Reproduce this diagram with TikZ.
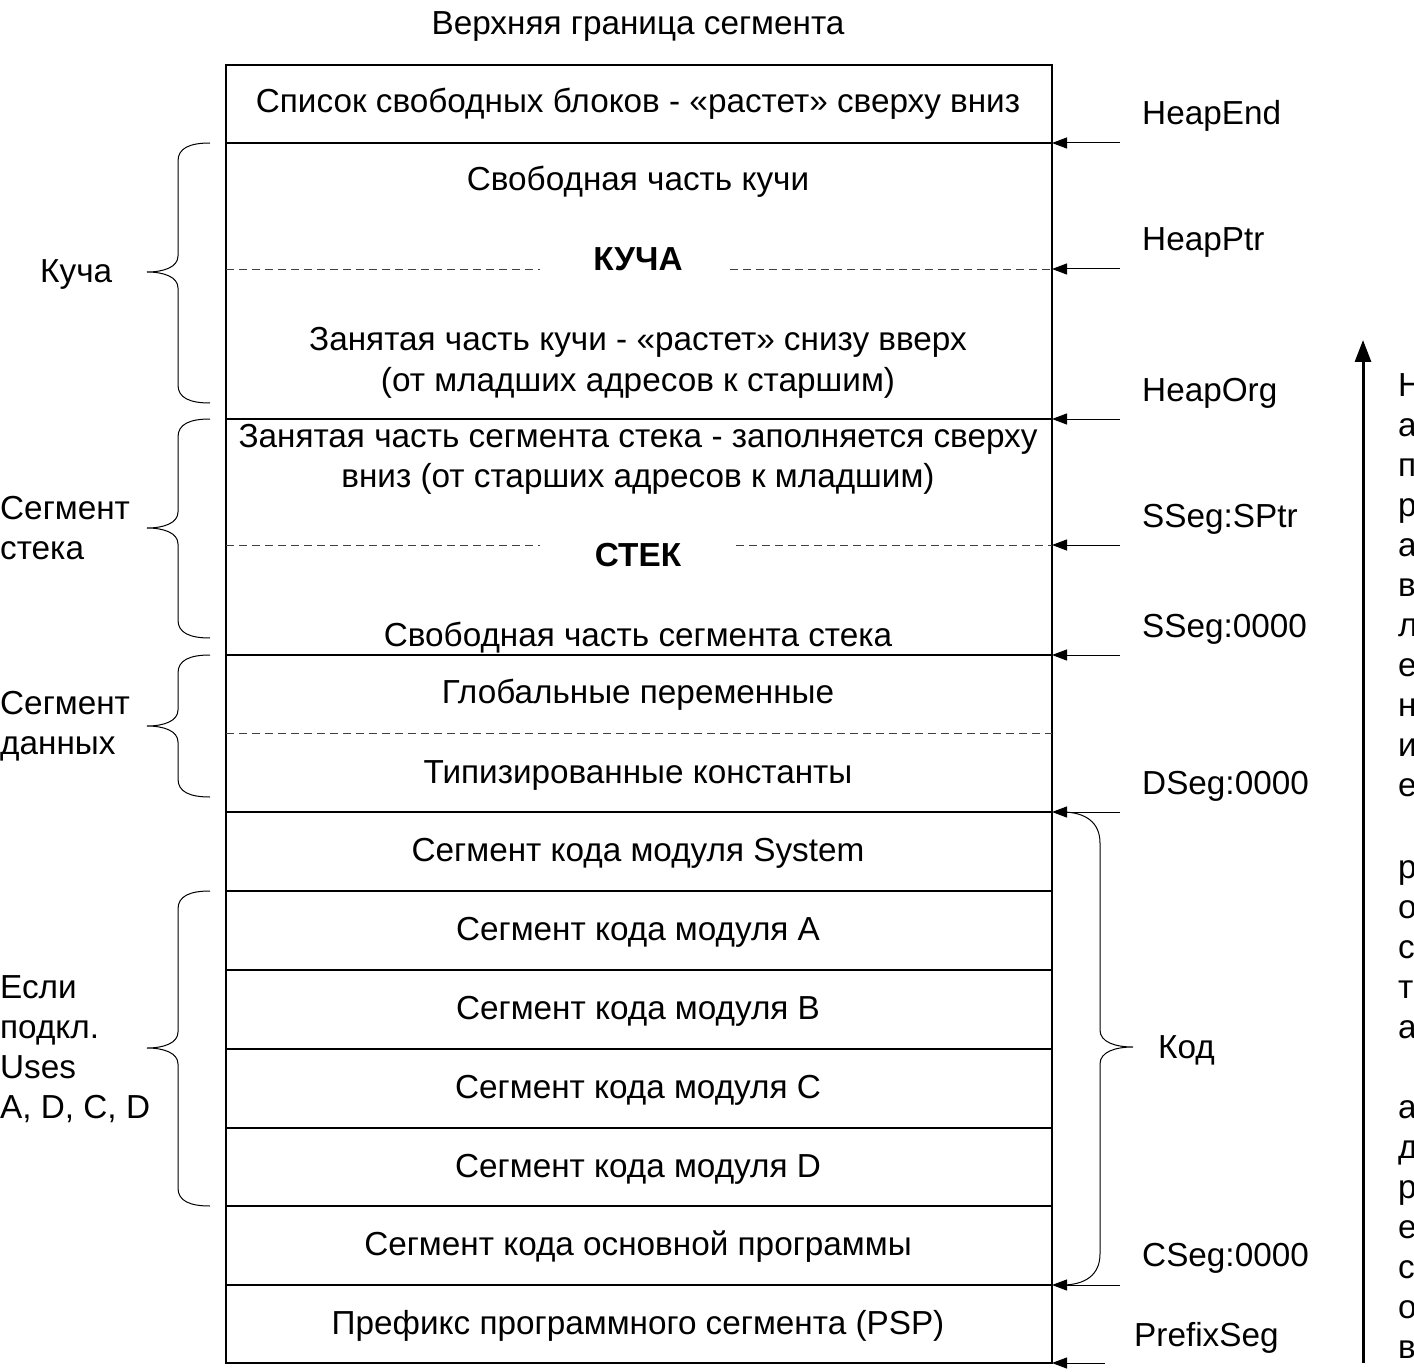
\documentclass[tikz,border=0pt]{standalone}
\usepackage{fontspec}
\setmainfont{Liberation Sans}
\usetikzlibrary{arrows.meta}
\newcommand\mybracL[4]{% tip x, top y, mid y, bottom y
  \draw[brc] (#1,#2) .. controls (#1-20,#2) and (#1-32,#2+5) .. (#1-32,#2+18) -- (#1-32,#3-16)
    .. controls (#1-32,#3-5) and (#1-46,#3) .. (#1-63,#3)
    .. controls (#1-46,#3) and (#1-32,#3+5) .. (#1-32,#3+16) -- (#1-32,#4-18)
    .. controls (#1-32,#4-5) and (#1-20,#4) .. (#1,#4);}
\begin{document}
\begin{tikzpicture}[x=1pt,y=-1pt,
  lbl/.style={font=\fontsize{33.3}{40}\selectfont, inner sep=0pt, anchor=base, align=center},
  lbll/.style={lbl, anchor=base west, align=left},
  boldlbl/.style={lbl, font=\fontsize{33.3}{40}\selectfont\bfseries},
  boxln/.style={line width=1.3pt},
  dashln/.style={line width=0.9pt, draw=black!75, dash pattern=on 8pt off 5pt},
  ptr/.style={-{Triangle[length=15pt,width=11pt]}, line width=1pt},
  brc/.style={line width=1pt},
  bigarrow/.style={-{Triangle[length=22pt,width=16pt]}, line width=3pt}]
\useasboundingbox (0,0) rectangle (1414,1372);
\clip (0,0) rectangle (1414,1372);

% main box and rows
\draw[boxln] (226,65) rectangle (1052,1363);
\foreach \yy in {143,419,655,812,891,970,1049,1128,1206,1285}
  \draw[boxln] (226,\yy) -- (1052,\yy);
\draw[dashln] (226,269) -- (540,269);
\draw[dashln] (730,269) -- (1052,269);
\draw[dashln] (226,545) -- (540,545);
\draw[dashln] (736,545) -- (1052,545);
\draw[dashln] (226,733) -- (1052,733);

% texts in box (base anchor = baseline of last line)
\node[lbl] (top) at (638,35) {Верхняя граница сегмента};
\node[lbl] (t1) at (638,113) {Список свободных блоков - «растет» сверху вниз};
\node[lbl] (t2) at (638,191) {Свободная часть кучи};
\node[boldlbl] (t3) at (638,271) {КУЧА};
\node[lbl] (t4) at (638,391) {Занятая часть кучи - «растет» снизу вверх\\(от младших адресов к старшим)};
\node[lbl] (t5) at (638,487) {Занятая часть сегмента стека - заполняется сверху\\вниз (от старших адресов к младшим)};
\node[boldlbl] (t6) at (638,566) {СТЕК};
\node[lbl] (t7) at (638,646) {Свободная часть сегмента стека};
\node[lbl] (t8) at (638,703) {Глобальные переменные};
\node[lbl] (t9) at (638,783) {Типизированные константы};
\node[lbl] (t10) at (638,861) {Сегмент кода модуля System};
\node[lbl] (t11) at (638,940) {Сегмент кода модуля A};
\node[lbl] (t12) at (638,1019) {Сегмент кода модуля B};
\node[lbl] (t13) at (638,1098) {Сегмент кода модуля C};
\node[lbl] (t14) at (638,1177) {Сегмент кода модуля D};
\node[lbl] (t15) at (638,1255) {Сегмент кода основной программы};
\node[lbl] (t16) at (638,1334) {Префикс программного сегмента (PSP)};

% pointer arrows
\foreach \nm/\yy/\xs in {a/143/1120,b/269/1120,c/419/1120,d/545/1120,e/655/1120,f/812/1120,g/1285/1120,h/1363/1105}{
  \coordinate (s\nm) at (\xs,\yy);
  \coordinate (e\nm) at (1052,\yy);
  \draw[ptr] (s\nm) -- (e\nm);
}
\node[lbll] (l1) at (1142,125) {HeapEnd};
\node[lbll] (l2) at (1142,251) {HeapPtr};
\node[lbll] (l3) at (1142,401) {HeapOrg};
\node[lbll] (l4) at (1142,527) {SSeg:SPtr};
\node[lbll] (l5) at (1142,637) {SSeg:0000};
\node[lbll] (l6) at (1142,794) {DSeg:0000};
\node[lbll] (l7) at (1142,1266) {CSeg:0000};
\node[lbll] (l8) at (1134,1346) {PrefixSeg};

% left braces
\mybracL{210}{143}{272}{403}
\mybracL{210}{419}{528}{638}
\mybracL{210}{655}{726}{797}
\mybracL{210}{891}{1048}{1206}
\node[lbll] (b1) at (40,283) {Куча};
\node[lbll] (b2) at (0,559) {Сегмент\\стека};
\node[lbll] (b3) at (0,754) {Сегмент\\данных};
\node[lbll] (b4) at (0,1118) {Если\\подкл.\\Uses\\A, D, C, D};

% right brace (Код)
\draw[brc] (1062,812) .. controls (1085,812) and (1100,822) .. (1100,843) -- (1100,1030)
  .. controls (1100,1042) and (1115,1047) .. (1133,1047)
  .. controls (1115,1047) and (1100,1052) .. (1100,1064) -- (1100,1254)
  .. controls (1100,1275) and (1085,1285) .. (1062,1285);
\node[lbll] (kod) at (1158,1058) {Код};

% direction arrow
\coordinate (ab) at (1363,1363);
\coordinate (at) at (1363,340);
\draw[bigarrow] (ab) -- (at);
\node[lbll] (v1) at (1398,796) {Н\\а\\п\\р\\а\\в\\л\\е\\н\\и\\е};
\node[lbll] (v2) at (1398,1038) {р\\о\\с\\т\\а};
\node[lbll] (v3) at (1398,1358) {а\\д\\р\\е\\с\\о\\в};
\end{tikzpicture}
\end{document}
